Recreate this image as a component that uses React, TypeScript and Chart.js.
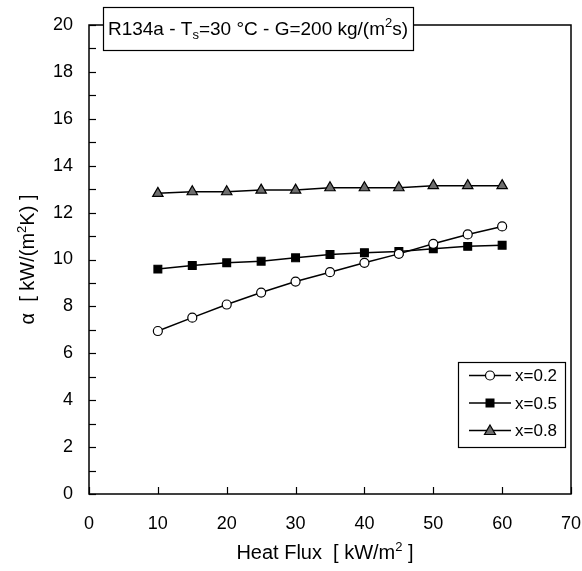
import React, { useEffect, useRef } from 'react';
import { Chart, registerables } from 'chart.js';

Chart.register(...registerables);

const heatFlux = [10, 15, 20, 25, 30, 35, 40, 45, 50, 55, 60];
const alphaX02 = [6.95, 7.52, 8.08, 8.59, 9.06, 9.46, 9.86, 10.24, 10.67, 11.07, 11.41];
const alphaX05 = [9.59, 9.74, 9.86, 9.93, 10.07, 10.21, 10.29, 10.34, 10.46, 10.56, 10.61];
const alphaX08 = [12.82, 12.89, 12.89, 12.96, 12.96, 13.06, 13.06, 13.06, 13.15, 13.15, 13.15];
const seriesLabels = ['x=0.2', 'x=0.5', 'x=0.8'];
const xRange = [0, 70];
const yRange = [0, 20];

const FONT = '"Liberation Sans", Arial, sans-serif';

type Part = [string, string, number];

function partsWidth(ctx: CanvasRenderingContext2D, parts: Part[]) {
  let total = 0;
  parts.forEach(([s, f]) => {
    ctx.font = f;
    total += ctx.measureText(s).width;
  });
  return total;
}

function drawParts(ctx: CanvasRenderingContext2D, parts: Part[], cx: number, baseY: number) {
  let tx = cx - partsWidth(ctx, parts) / 2;
  ctx.textBaseline = 'alphabetic';
  ctx.textAlign = 'left';
  ctx.fillStyle = '#000';
  parts.forEach(([s, f, dy]) => {
    ctx.font = f;
    ctx.fillText(s, tx, baseY + dy);
    tx += ctx.measureText(s).width;
  });
}

function drawMarker(ctx: CanvasRenderingContext2D, kind: number, cx: number, cy: number) {
  ctx.save();
  ctx.lineWidth = 1.2;
  ctx.strokeStyle = '#000';
  if (kind === 0) {
    ctx.beginPath();
    ctx.arc(cx, cy, 4.5, 0, Math.PI * 2);
    ctx.fillStyle = '#fff';
    ctx.fill();
    ctx.stroke();
  } else if (kind === 1) {
    ctx.fillStyle = '#000';
    ctx.fillRect(cx - 4.5, cy - 4.5, 9, 9);
  } else {
    ctx.beginPath();
    ctx.moveTo(cx, cy - 5.5);
    ctx.lineTo(cx + 5.5, cy + 4);
    ctx.lineTo(cx - 5.5, cy + 4);
    ctx.closePath();
    ctx.fillStyle = '#6e6e6e';
    ctx.fill();
    ctx.stroke();
  }
  ctx.restore();
}

const framePlugin = {
  id: 'frame',
  afterDraw(chart: any) {
    const { ctx, chartArea } = chart;
    const { left, right, top, bottom } = chartArea;
    const xs = chart.scales.x;
    const ys = chart.scales.y;
    ctx.save();
    ctx.strokeStyle = '#000';
    ctx.lineWidth = 1.5;
    ctx.strokeRect(left, top, right - left, bottom - top);
    ctx.lineWidth = 1.2;
    ys.ticks.forEach((t: any) => {
      const py = Math.round(ys.getPixelForValue(t.value)) + 0.5;
      ctx.beginPath();
      ctx.moveTo(left, py);
      ctx.lineTo(left + 7, py);
      ctx.stroke();
    });
    xs.ticks.forEach((t: any) => {
      const px = Math.round(xs.getPixelForValue(t.value)) + 0.5;
      ctx.beginPath();
      ctx.moveTo(px, bottom);
      ctx.lineTo(px, bottom - 7);
      ctx.stroke();
    });

    const big = `19px ${FONT}`;
    const small = `13px ${FONT}`;

    // Title box
    const bx0 = 103, bx1 = 413, by0 = 7, by1 = 50;
    ctx.fillStyle = '#fff';
    ctx.fillRect(bx0, by0, bx1 - bx0, by1 - by0);
    ctx.lineWidth = 1.2;
    ctx.strokeRect(bx0 + 0.5, by0 + 0.5, bx1 - bx0, by1 - by0);
    drawParts(ctx, [
      ['R134a - T', big, 0],
      ['s', small, 4],
      ['=30 °C - G=200 kg/(m', big, 0],
      ['2', small, -8],
      ['s)', big, 0],
    ], (bx0 + bx1) / 2, 35);

    // Axis titles
    const tf = `20px ${FONT}`;
    const ts = `13px ${FONT}`;
    drawParts(ctx, [
      ['Heat Flux  [ kW/m', tf, 0],
      ['2', ts, -8],
      [' ]', tf, 0],
    ], (left + right) / 2 - 5, 559);
    ctx.save();
    ctx.translate(34, (top + bottom) / 2);
    ctx.rotate(-Math.PI / 2);
    drawParts(ctx, [
      ['α  [ kW/(m', tf, 0],
      ['2', ts, -8],
      ['K) ]', tf, 0],
    ], 0, 0);
    ctx.restore();

    // Legend
    const lx0 = 458, lx1 = 565, ly0 = 362, ly1 = 447;
    ctx.fillStyle = '#fff';
    ctx.fillRect(lx0, ly0, lx1 - lx0, ly1 - ly0);
    ctx.lineWidth = 1.2;
    ctx.strokeStyle = '#000';
    ctx.strokeRect(lx0 + 0.5, ly0 + 0.5, lx1 - lx0, ly1 - ly0);
    const rows = [375.5, 403, 430.5];
    chart.data.datasets.forEach((ds: any, i: number) => {
      const y = rows[i];
      ctx.beginPath();
      ctx.moveTo(469, y);
      ctx.lineTo(511, y);
      ctx.lineWidth = 1.5;
      ctx.stroke();
      drawMarker(ctx, i, 490, y);
      ctx.font = `17px ${FONT}`;
      ctx.fillStyle = '#000';
      ctx.textAlign = 'left';
      ctx.textBaseline = 'middle';
      ctx.fillText(ds.label, 515, y + 1);
    });
    ctx.restore();
  },
};

function toPoints(vals: number[]) {
  return heatFlux.map((x, i) => ({ x, y: vals[i] }));
}

export default function App() {
  const ref = useRef<HTMLCanvasElement | null>(null);
  useEffect(() => {
    document.body.style.margin = '0';
    Chart.defaults.font.family = FONT;
    const common = {
      showLine: true,
      borderColor: '#000',
      borderWidth: 1.5,
      pointBorderColor: '#000',
      pointBorderWidth: 1.2,
    };
    const chart = new Chart(ref.current as HTMLCanvasElement, {
      type: 'scatter',
      data: {
        datasets: [
          { ...common, label: seriesLabels[0], data: toPoints(alphaX02), pointStyle: 'circle', pointRadius: 4.5, pointBackgroundColor: '#fff' },
          { ...common, label: seriesLabels[1], data: toPoints(alphaX05), pointStyle: 'rect', pointRadius: 5.5, pointBackgroundColor: '#000' },
          { ...common, label: seriesLabels[2], data: toPoints(alphaX08), pointStyle: 'triangle', pointRadius: 6, pointBackgroundColor: '#6e6e6e' },
        ],
      },
      options: {
        responsive: false,
        animation: false,
        layout: { padding: { top: 25, right: 11, left: 0, bottom: 0 } },
        plugins: { legend: { display: false }, tooltip: { enabled: false } },
        scales: {
          x: {
            type: 'linear',
            min: xRange[0],
            max: xRange[1],
            grid: { display: false, drawTicks: false },
            border: { display: false },
            ticks: { stepSize: 10, color: '#000', font: { size: 18 }, padding: 19 },
            title: { display: false },
            afterFit: (s: any) => { s.height = 77; s.paddingLeft = 0; s.paddingRight = 0; },
          },
          y: {
            type: 'linear',
            min: yRange[0],
            max: yRange[1],
            grid: { display: false, drawTicks: false },
            border: { display: false },
            ticks: {
              stepSize: 1,
              autoSkip: false,
              color: '#000',
              font: { size: 18 },
              padding: 16,
              callback: (v: any) => (Number(v) % 2 === 0 ? String(v) : ''),
            },
            title: { display: false },
            afterFit: (s: any) => { s.width = 89; s.paddingTop = 0; s.paddingBottom = 0; },
          },
        },
      },
      plugins: [framePlugin],
    } as any);
    return () => chart.destroy();
  }, []);
  return <canvas ref={ref} width={582} height={571} style={{ display: 'block' }} />;
}
